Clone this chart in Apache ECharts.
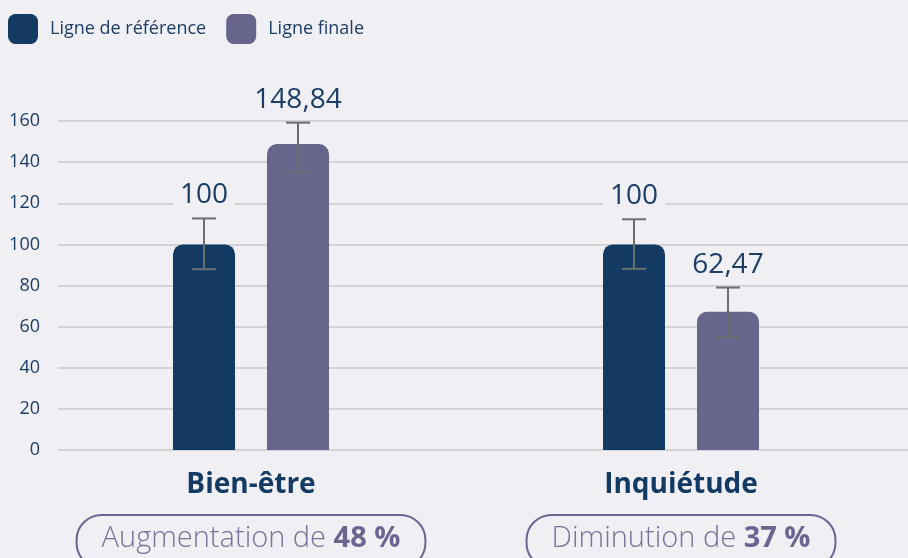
<!DOCTYPE html>
<html>
<head>
<meta charset="utf-8">
<script src="https://cdn.jsdelivr.net/npm/echarts@6/dist/echarts.min.js"></script>
<style>
  html, body { margin: 0; padding: 0; background: #efeff4; }
  #chart { width: 908px; height: 558px; }
</style>
</head>
<body>
<div id="chart"></div>
<script>
const categories = ["Bien-être", "Inquiétude"]
const seriesNames = ["Ligne de référence", "Ligne finale"]
// hauteurs des barres telles que dessinées
const refValues = [100, 100]
const finalValues = [148.84, 67.2]
// textes affichés au-dessus des barres
const refLabels = ["100", "100"]
const finalLabels = ["148,84", "62,47"]
// barres d'erreur (bas / haut)
const refLow = [87.9, 88.1]
const refHigh = [112.6, 112.2]
const finalLow = [134.9, 54.8]
const finalHigh = [159.2, 79.0]
// pastilles sous les catégories
const changeText = ["Augmentation de ", "Diminution de "]
const changePct = ["48 %", "37 %"]
const yTicks = [0, 20, 40, 60, 80, 100, 120, 140, 160]

const FONT = "'Open Sans', sans-serif"
const BG = "#efeff4"
const NAVY = "#133a63"
const PURPLE = "#67658b"
const TEXT = "#1c3d66"
const BAR_W = 62
const GAP = 32

const chart = echarts.init(document.getElementById("chart"))

function errorSeries(low, high, labels, offset) {
  return {
    type: "custom",
    xAxisIndex: 1,
    yAxisIndex: 1,
    z: 5,
    data: categories.map((c, i) => [i, low[i], high[i], labels[i]]),
    renderItem: (params, api) => {
      const i = api.value(0)
      const lo = api.coord([i, api.value(1)])
      const hi = api.coord([i, api.value(2)])
      const x = hi[0] + offset
      const line = { stroke: "#687070", lineWidth: 2 }
      return {
        type: "group",
        children: [
          { type: "line", shape: { x1: x, y1: hi[1], x2: x, y2: lo[1] }, style: line },
          { type: "line", shape: { x1: x - 12, y1: hi[1], x2: x + 12, y2: hi[1] }, style: line },
          { type: "line", shape: { x1: x - 12, y1: lo[1], x2: x + 12, y2: lo[1] }, style: line },
          {
            type: "text",
            style: {
              text: labels[params.dataIndex],
              x: x,
              y: hi[1] - 23,
              align: "center",
              verticalAlign: "middle",
              fontFamily: FONT,
              fontSize: 28,
              fill: TEXT,
              backgroundColor: BG,
              padding: [0, 7]
            }
          }
        ]
      }
    }
  }
}

const option = {
  backgroundColor: BG,
  textStyle: { fontFamily: FONT },
  legend: {
    left: 8,
    top: 14,
    padding: 0,
    itemWidth: 30,
    itemHeight: 30,
    itemGap: 20,
    icon: "roundRect",
    data: seriesNames,
    textStyle: { fontFamily: FONT, fontSize: 18, color: TEXT, padding: [0, 0, 0, 7] }
  },
  grid: [
    { left: 58, right: 0, top: 121, bottom: 108, outerBoundsMode: "none" },
    { left: 36, right: 12, top: 121, bottom: 108, outerBoundsMode: "none" }
  ],
  xAxis: [
    { gridIndex: 0, type: "value", show: false, min: 0, max: 1 },
    {
      gridIndex: 1,
      type: "category",
      data: categories,
      axisLine: { show: false },
      axisTick: { show: false },
      axisLabel: {
        margin: 21,
        fontFamily: FONT,
        fontSize: 28,
        fontWeight: "bold",
        lineHeight: 28,
        color: NAVY
      }
    },
    {
      gridIndex: 1,
      type: "category",
      data: categories,
      position: "bottom",
      axisLine: { show: false },
      axisTick: { show: false },
      axisLabel: {
        margin: 65,
        formatter: (v, i) => "{t|" + changeText[i] + "}{n|" + changePct[i] + "}",
        borderColor: "#6b6592",
        borderWidth: 2,
        borderRadius: 25,
        padding: [9, 25, 14, 25],
        rich: {
          t: { fontFamily: FONT, fontSize: 29, fontWeight: 300, lineHeight: 30, color: "#78739a" },
          n: { fontFamily: FONT, fontSize: 29, lineHeight: 30, fontWeight: "bold", color: "#6b6592" }
        }
      }
    }
  ],
  yAxis: [
    {
      gridIndex: 0,
      type: "value",
      min: yTicks[0],
      max: yTicks[yTicks.length - 1],
      interval: 20,
      axisLine: { show: false },
      axisTick: { show: false },
      axisLabel: { margin: 18, fontFamily: FONT, fontSize: 18, color: TEXT },
      splitLine: { lineStyle: { color: "#d2d2d7", width: 2 } }
    },
    {
      gridIndex: 1,
      type: "value",
      min: yTicks[0],
      max: yTicks[yTicks.length - 1],
      interval: 20,
      show: false,
      splitLine: { show: false }
    }
  ],
  series: [
    {
      name: seriesNames[0],
      type: "bar",
      xAxisIndex: 1,
      yAxisIndex: 1,
      barWidth: BAR_W,
      barGap: (GAP / BAR_W * 100).toFixed(1) + "%",
      itemStyle: { color: NAVY, borderRadius: [10, 10, 0, 0] },
      data: refValues
    },
    {
      name: seriesNames[1],
      type: "bar",
      xAxisIndex: 1,
      yAxisIndex: 1,
      barWidth: BAR_W,
      barGap: (GAP / BAR_W * 100).toFixed(1) + "%",
      itemStyle: { color: PURPLE, borderRadius: [10, 10, 0, 0] },
      data: finalValues
    },
    errorSeries(refLow, refHigh, refLabels, -(BAR_W + GAP) / 2),
    errorSeries(finalLow, finalHigh, finalLabels, (BAR_W + GAP) / 2)
  ]
}

chart.setOption(option)
</script>
</body>
</html>
